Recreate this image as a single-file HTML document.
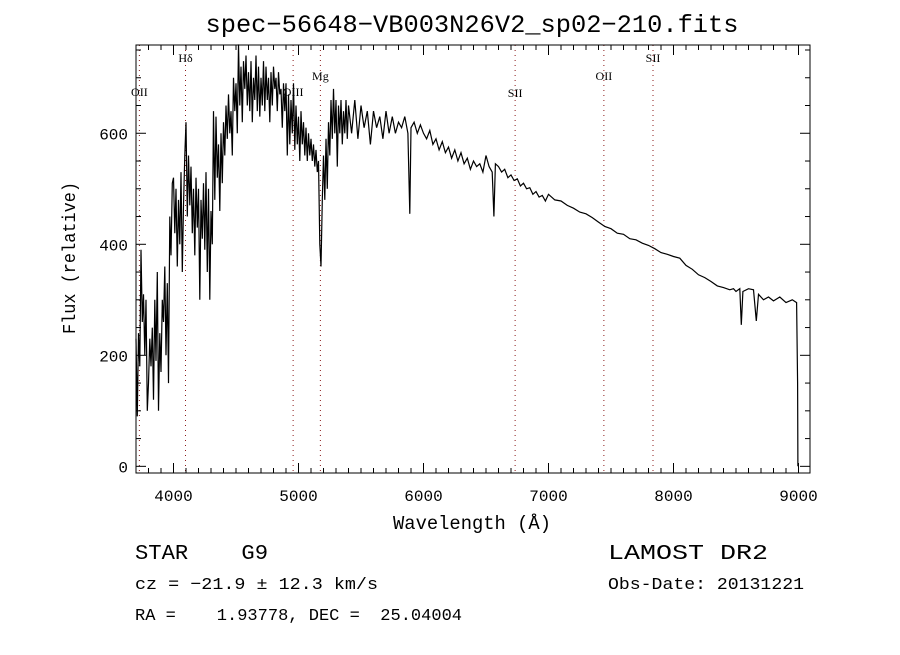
<!DOCTYPE html>
<html><head><meta charset="utf-8"><style>
body{margin:0;background:#fff;}
svg text{font-family:"Liberation Mono",monospace;fill:#000;}
svg text.ser{font-family:"Liberation Serif",serif;}
</style></head><body>
<svg id="chart" width="900" height="650" xmlns="http://www.w3.org/2000/svg">
<rect width="900" height="650" fill="#fff"/>
<text x="472" y="32" font-size="25" text-anchor="middle" textLength="533" lengthAdjust="spacingAndGlyphs">spec−56648−VB003N26V2_sp02−210.fits</text>
<text x="472" y="529" font-size="19" text-anchor="middle" textLength="158" lengthAdjust="spacingAndGlyphs">Wavelength (Å)</text>
<text transform="translate(75,258) rotate(-90)" font-size="18" text-anchor="middle" textLength="152" lengthAdjust="spacingAndGlyphs">Flux (relative)</text>
<g id="grid"></g><g id="ticks"></g>
<polyline id="spec" fill="none" stroke="#000" stroke-width="1.2"/>
<rect x="136" y="45" width="674" height="428" fill="none" stroke="#000" stroke-width="1"/>
<text x="135" y="559" font-size="21" xml:space="preserve" textLength="133" lengthAdjust="spacingAndGlyphs">STAR    G9</text>
<text x="135" y="589" font-size="17" textLength="243" lengthAdjust="spacingAndGlyphs">cz = −21.9 ± 12.3 km/s</text>
<text x="135" y="620" font-size="17" xml:space="preserve" textLength="327" lengthAdjust="spacingAndGlyphs">RA =    1.93778, DEC =  25.04004</text>
<text x="608" y="559" font-size="21" textLength="160" lengthAdjust="spacingAndGlyphs">LAMOST DR2</text>
<text x="608" y="589" font-size="17" textLength="196" lengthAdjust="spacingAndGlyphs">Obs-Date: 20131221</text>
</svg>
<script>
const waveFine=[3700,3710,3720,3730,3740,3750,3760,3770,3780,3790,3800,3810,3820,3830,3840,3850,3860,3870,3880,3890,3900,3910,3920,3930,3940,3950,3960,3970,3980,3990];
const fluxFine=[230,90,240,180,390,260,310,200,300,100,150,230,180,250,120,300,190,350,100,240,170,300,260,360,200,330,150,450,380,510];
const fluxBlue=[520,420,500,360,480,400,530,350,470,560, 620,450,560,470,540,420,500,380,520,430, 500,300,480,410,510,390,530,350,500,300, 460,400,640,480,630,520,580,460,600,510, 620,560,650,590,670,600,640,560,700,640, 690,600,760,650,720,620,730,680,740,650, 710,640,730,620,700,660,740,640,720,630, 700,650,730,640,720,660,700,620,710,650, 720,680,700,640,710,670,680,610,690,640, 690,560,670,580,660,600,690,570,650,580, 630,550,640,580,620,560,610,550,600,560, 590,550,580,540,570,530,550,400,360,480, 560,480,590,500,620,560,660,590,680,600, 660,540,650,600,660,580,640,600,660,590];
const waveRed=[5400,5425,5450,5475,5500,5525,5550,5575,5600,5625,5650,5675,5700,5725,5750,5775,5800,5825,5850,5875,5890,5900,5925,5950,5975,6000,6025,6050,6075,6100,6125,6150,6175,6200,6225,6250,6275,6300,6325,6350,6375,6400,6425,6450,6475,6500,6525,6550,6563,6575,6600,6625,6650,6675,6700,6725,6750,6775,6800,6825,6850,6875,6900,6925,6950,6975,7000,7050,7100,7150,7200,7250,7300,7350,7400,7450,7500,7550,7600,7650,7700,7750,7800,7850,7900,7950,8000,8050,8100,8150,8200,8250,8300,8350,8400,8450,8480,8500,8530,8542,8555,8600,8640,8662,8680,8720,8760,8800,8850,8900,8950,8985,8993,8995];
const fluxRed=[650,600,660,590,650,610,640,580,640,610,630,590,640,600,630,600,620,610,630,600,455,610,620,600,615,600,590,605,580,590,570,585,565,575,555,570,550,565,545,555,535,550,540,545,530,560,540,530,450,545,540,530,535,520,525,515,518,505,510,500,502,490,495,485,488,478,490,480,478,470,465,458,455,448,440,432,428,420,418,410,408,402,398,392,385,382,378,375,362,355,345,340,333,325,322,318,320,315,320,255,315,320,318,262,310,300,305,298,305,295,300,295,150,0];
const xTicks=[4000,5000,6000,7000,8000,9000];
const yTicks=[0,200,400,600];
const lineWaves=[3727,4096,4957,5175,6733,7443,7836];
const lineNames=["OII","Hδ","OIII","Mg","SII","OII","SII"];
const lineLabelY=[96,62,96,80,97,80,62];

const X0=3700,X1=9092,Y0=-12,Y1=759,L=136,R=810,T=45,B=473;
const xs=w=>L+(w-X0)/(X1-X0)*(R-L);
const ys=v=>B-(v-Y0)/(Y1-Y0)*(B-T);
const NS='http://www.w3.org/2000/svg';
const grid=document.getElementById('grid'),tk=document.getElementById('ticks');
function mk(tag,attrs,parent){const e=document.createElementNS(NS,tag);for(const k in attrs)e.setAttribute(k,attrs[k]);parent.appendChild(e);return e;}

let wave=[],flux=[];
waveFine.forEach((w,i)=>{wave.push(w);flux.push(fluxFine[i]);});
fluxBlue.forEach((f,i)=>{wave.push(4000+10*i);flux.push(f);});
waveRed.forEach((w,i)=>{wave.push(w);flux.push(fluxRed[i]);});
document.getElementById('spec').setAttribute('points',wave.map((w,i)=>xs(w).toFixed(1)+','+ys(flux[i]).toFixed(1)).join(' '));

lineWaves.forEach((w,i)=>{
  const l=mk('line',{x1:xs(w),x2:xs(w),y1:T,y2:B,stroke:'#8b1a1a','stroke-width':1,'stroke-dasharray':'1,4'},grid);
  
  
  const t=mk('text',{x:xs(w),y:lineLabelY[i],'font-size':12,'text-anchor':'middle','class':'ser'},grid);
  t.textContent=lineNames[i];
  
  
});

for(let w=3700;w<=9090;w+=100){
  const major=w%1000===0,len=major?10:5,x=xs(w);
  const a=mk('line',{x1:x,x2:x,y1:B,y2:B-len,stroke:'#000'},tk);
  
  
  const b=mk('line',{x1:x,x2:x,y1:T,y2:T+len,stroke:'#000'},tk);
  
  
}
xTicks.forEach(w=>{
  const t=mk('text',{x:xs(w),y:501,'font-size':16,'text-anchor':'middle'},tk);
  t.textContent=w;
  
  
});
for(let v=0;v<=750;v+=50){
  const major=v%200===0,len=major?10:5,y=ys(v);
  const a=mk('line',{x1:L,x2:L+len,y1:y,y2:y,stroke:'#000'},tk);
  
  
  const b=mk('line',{x1:R,x2:R-len,y1:y,y2:y,stroke:'#000'},tk);
  
  
}
yTicks.forEach(v=>{
  const t=mk('text',{x:128,y:ys(v)+6,'font-size':16,'text-anchor':'end'},tk);
  t.textContent=v;
  
  
});
</script>
</body></html>
